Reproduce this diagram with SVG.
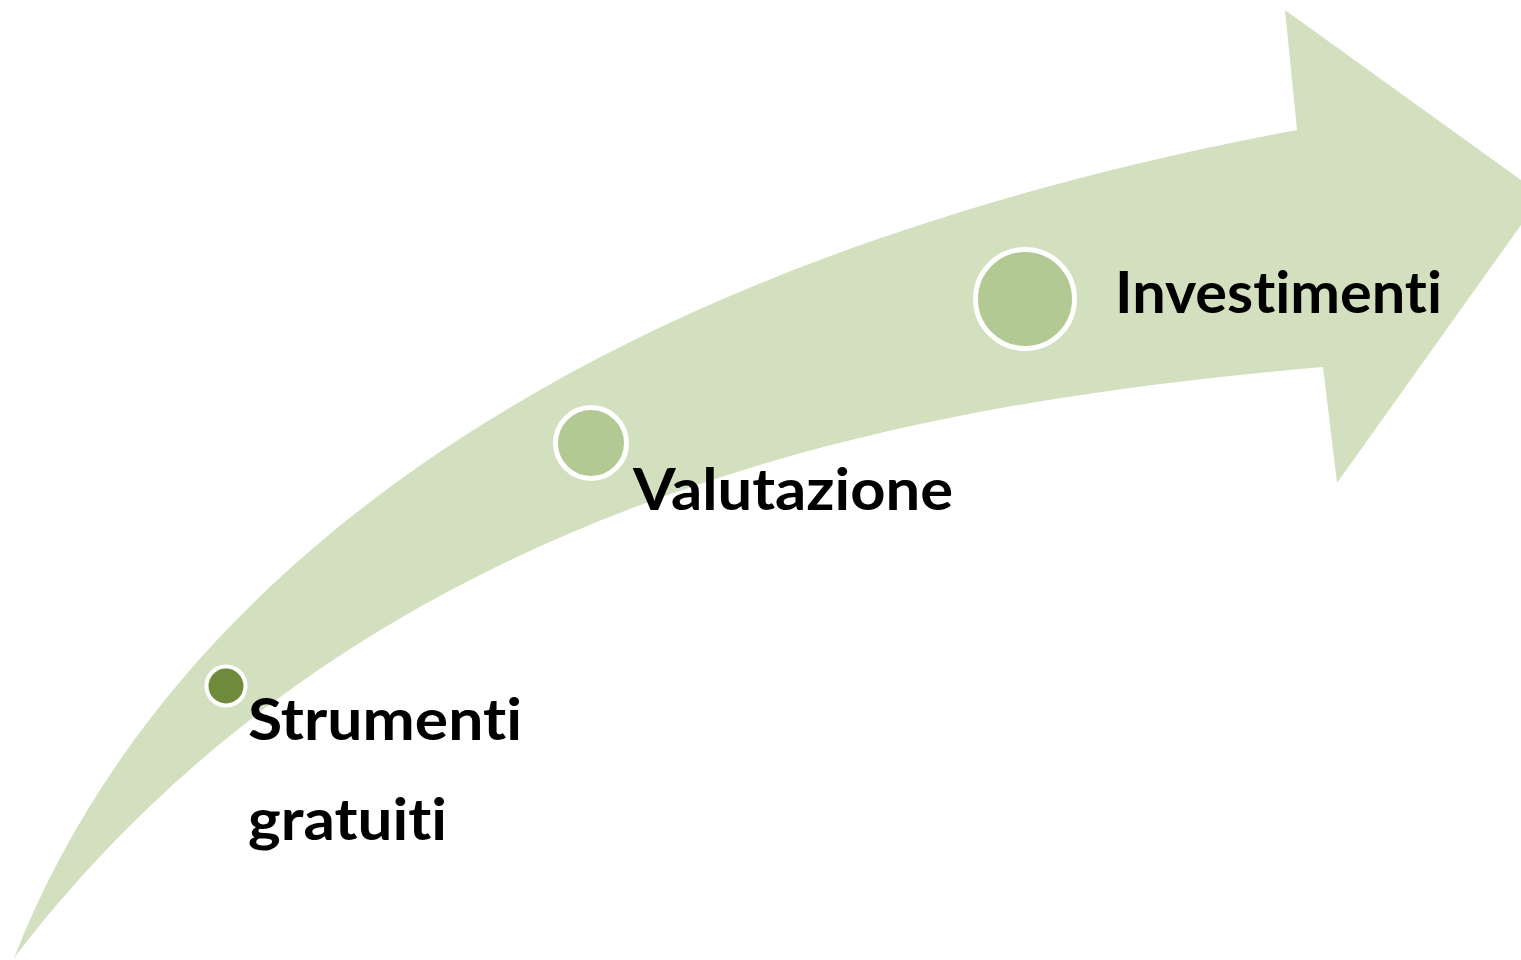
<svg xmlns="http://www.w3.org/2000/svg" width="1521" height="960" viewBox="0 0 1521 960">
<style>
.lbl{font-family:Lato,"Open Sans","Liberation Sans",sans-serif;font-weight:bold;font-size:57px;fill:#000;font-variant-ligatures:none;font-feature-settings:"liga" 0,"clig" 0}
.dot{stroke:#fff}
</style>
<rect width="1521" height="960" fill="#fff"/>
<g id="arrow">
<path d="M14,958 C170,560 600,260 1297,130 L1285,10 L1521,180 L1521,225 L1337,483 L1323,367 C950,400 380,480 14,958 Z" fill="#d3e0bf"/>
</g>
<g id="connectors"></g>
<g id="node-strumenti">
<circle class="dot" cx="226" cy="686" r="19.5" fill="#6f8a3a" stroke-width="4"/>
<text class="lbl" x="248" y="740" textLength="274" lengthAdjust="spacingAndGlyphs">Strumenti</text>
<text class="lbl" x="248" y="840" textLength="199" lengthAdjust="spacingAndGlyphs">gratuiti</text>
</g>
<g id="node-valutazione">
<circle class="dot" cx="591" cy="443" r="35.5" fill="#b3c993" stroke-width="5"/>
<text class="lbl" x="633" y="510" textLength="320" lengthAdjust="spacingAndGlyphs">Valutazione</text>
</g>
<g id="node-investimenti">
<circle class="dot" cx="1025" cy="299" r="49.5" fill="#b3c993" stroke-width="5"/>
<text class="lbl" x="1115" y="313" textLength="327" lengthAdjust="spacingAndGlyphs">Investimenti</text>
</g>
</svg>
